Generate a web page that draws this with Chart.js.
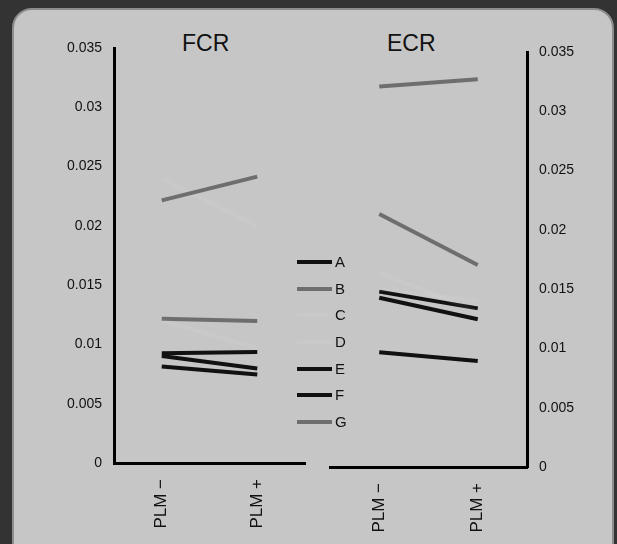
<!DOCTYPE html>
<html>
<head>
<meta charset="utf-8">
<script src="https://cdn.jsdelivr.net/npm/chart.js@4/dist/chart.umd.min.js"></script>
<style>
  html, body { margin: 0; padding: 0; }
  body {
    width: 617px; height: 544px; overflow: hidden; position: relative;
    background: #333; font-family: "Liberation Sans", Arial, sans-serif;
  }
  #panel {
    position: absolute; left: 12px; top: 8px; width: 598px; height: 560px;
    background: #c6c6c6; border: 2px solid #8c8c8c; border-radius: 20px;
  }
  canvas { position: absolute; top: 0; }
  #fcr { left: 0; }
  #ecr { left: 320px; }
  .title { position: absolute; font-size: 23px; color: #111; top: 30px; }
  #legend { position: absolute; left: 297px; top: 253px; }
  .lg { position: relative; height: 26.7px; }
  .lg span.sw { position: absolute; left: 0; top: 7px; width: 35px; height: 4px; }
  .lg span.tx { position: absolute; left: 38px; top: 0; font-size: 15px; color: #111; }
</style>
</head>
<body>
<div id="panel"></div>
<div class="title" style="left:182px">FCR</div>
<div class="title" style="left:387px">ECR</div>
<canvas id="fcr" width="320" height="544"></canvas>
<canvas id="ecr" width="297" height="544"></canvas>
<div id="legend"></div>
<script>
// ------------------------------------------------------------
// DATA
// ------------------------------------------------------------
const categories = ["PLM \u2212", "PLM +"];
const seriesNames = ["A", "B", "C", "D", "E", "F", "G"];
const yTicks = [0, 0.005, 0.01, 0.015, 0.02, 0.025, 0.03, 0.035];

// FCR (left panel)
const fcrA = [0.00925, 0.00936];
const fcrB = [0.02215, 0.02415];
const fcrC = [0.0240, 0.0200];
const fcrD = [0.0120, 0.0097];
const fcrE = [0.00903, 0.00797];
const fcrF = [0.00814, 0.00746];
const fcrG = [0.01217, 0.01197];

// ECR (right panel)
const ecrA = [0.00967, 0.00894];
const ecrB = [0.0321, 0.0327];
const ecrC = [0.0164, 0.0131];
const ecrD = [0.0150, 0.0140];
const ecrE = [0.01479, 0.01338];
const ecrF = [0.01428, 0.01246];
const ecrG = [0.02134, 0.01704];

// C and D are white lines, almost lost in the grey background
const seriesColors = [
  "#111111", "#6e6e6e", "rgba(255,255,255,0.06)", "rgba(255,255,255,0.06)",
  "#111111", "#111111", "#6e6e6e",
];

// ------------------------------------------------------------
// CHARTS
// ------------------------------------------------------------
function makeDatasets(values) {
  return values.map((v, i) => ({
    label: seriesNames[i],
    data: v,
    borderColor: seriesColors[i],
    backgroundColor: seriesColors[i],
    borderWidth: 4,
    borderCapStyle: "butt",
    pointRadius: 0,
    fill: false,
    tension: 0,
  }));
}

function buildChart(id, values, side, yWidth, xHeight, pad) {
  const ctx = document.getElementById(id).getContext("2d");
  return new Chart(ctx, {
    type: "line",
    data: { labels: categories, datasets: makeDatasets(values) },
    options: {
      responsive: false,
      animation: false,
      layout: { padding: pad },
      plugins: { legend: { display: false }, tooltip: { enabled: false } },
      scales: {
        x: {
          type: "category",
          offset: true,
          grid: { display: false, drawTicks: false },
          border: { color: "#000", width: 3 },
          ticks: {
            color: "#111",
            font: { size: 17, family: "Liberation Sans" },
            maxRotation: 90, minRotation: 90,
            padding: 16,
          },
          afterFit: (s) => { s.height = xHeight; s.paddingLeft = 0; s.paddingRight = 0; },
        },
        y: {
          position: side,
          min: 0,
          max: 0.035,
          afterBuildTicks: (s) => { s.ticks = yTicks.map((v) => ({ value: v })); },
          grid: { display: false, drawTicks: false },
          border: { color: "#000", width: 3 },
          ticks: {
            color: "#111",
            font: { size: 14, family: "Liberation Sans" },
            padding: 12,
            callback: (v) => String(+v.toFixed(3)),
          },
          afterFit: (s) => { s.width = yWidth; s.paddingTop = 0; s.paddingBottom = 0; },
        },
      },
    },
  });
}

buildChart("fcr", [fcrA, fcrB, fcrC, fcrD, fcrE, fcrF, fcrG], "left", 114, 81,
  { top: 48, left: 0, right: 15, bottom: 0 });
buildChart("ecr", [ecrA, ecrB, ecrC, ecrD, ecrE, ecrF, ecrG], "right", 90, 77,
  { top: 52, left: 10, right: 0, bottom: 0 });

// ------------------------------------------------------------
// LEGEND
// ------------------------------------------------------------
const legend = document.getElementById("legend");
seriesNames.forEach((name, i) => {
  const row = document.createElement("div");
  row.className = "lg";
  const sw = document.createElement("span");
  sw.className = "sw";
  sw.style.background = seriesColors[i];
  const tx = document.createElement("span");
  tx.className = "tx";
  tx.textContent = name;
  row.appendChild(sw);
  row.appendChild(tx);
  legend.appendChild(row);
});
</script>
</body>
</html>
